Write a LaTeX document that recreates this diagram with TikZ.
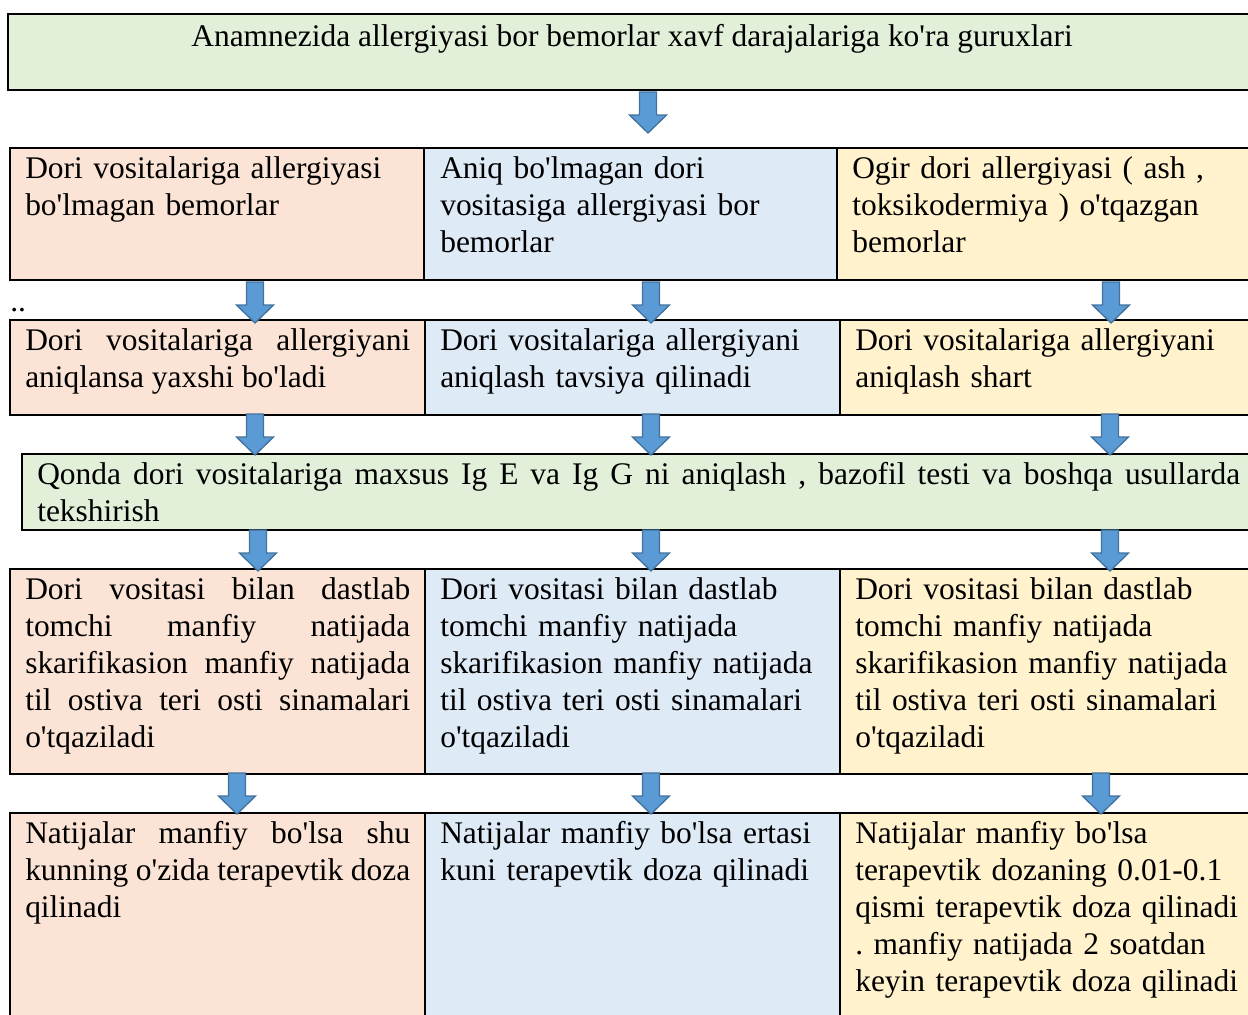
\documentclass[tikz,border=0pt]{standalone}
\usepackage{fontspec}
\setmainfont{Liberation Serif}[Ligatures=TeXOff]
\tolerance=9999 \hbadness=10000 \hyphenpenalty=10000
\frenchspacing
\definecolor{cgreen}{HTML}{E2EFD9}
\definecolor{cpeach}{HTML}{FBE4D5}
\definecolor{cblue}{HTML}{DEEAF6}
\definecolor{cyellow}{HTML}{FFF2CC}
\definecolor{afill}{HTML}{5B9BD5}
\definecolor{aline}{HTML}{41719C}
\begin{document}
\begin{tikzpicture}[x=0.75pt,y=-0.75pt,
  cell/.style={draw=black, line width=1.7pt},
  txt/.style={anchor=base west, inner sep=0pt, text width=288.75pt,
    font=\fontsize{23.6pt}{27.75pt}\selectfont\frenchspacing},
  lft/.style={txt, align=left, text width=305pt},
  jst/.style={txt, align=justify},
  arrowstyle/.style={fill=afill, draw=aline, line width=1pt, line join=miter},
  barrow/.pic={\draw[arrowstyle] (-8.5,0) -- (8.5,0) -- (8.5,23) -- (18.5,23)
      -- (0,41) -- (-18.5,23) -- (-8.5,23) -- cycle;}
  ]
\useasboundingbox (0,0) rectangle (1248,1014);
% top box
\draw[cell, fill=cgreen] (8,14) rectangle (1262,90);
\node[anchor=base, inner sep=0pt, font=\fontsize{23.6pt}{27.75pt}\selectfont] (top) at (632,46)
  {Anamnezida allergiyasi bor bemorlar xavf darajalariga ko'ra guruxlari};
% row 1
\draw[cell, fill=cpeach] (10,148) rectangle (424,280);
\draw[cell, fill=cblue] (424,148) rectangle (837,280);
\draw[cell, fill=cyellow] (837,148) rectangle (1262,280);
\node[lft] (r1a) at (25,178) {Dori vositalariga allergiyasi\\ bo'lmagan bemorlar};
\node[lft] (r1b) at (440,178) {Aniq bo'lmagan dori\\ vositasiga allergiyasi bor\\ bemorlar};
\node[lft] (r1c) at (852,178) {Ogir dori allergiyasi ( ash ,\\ toksikodermiya ) o'tqazgan\\ bemorlar};
\node[anchor=base west, inner sep=0pt, font=\fontsize{23.6pt}{27.75pt}\selectfont] (dots) at (10,311) {..};
% row 2
\draw[cell, fill=cpeach] (10,320) rectangle (425,415);
\draw[cell, fill=cblue] (425,320) rectangle (840,415);
\draw[cell, fill=cyellow] (840,320) rectangle (1262,415);
\node[jst] (r2a) at (25,350) {Dori vositalariga allergiyani\linebreak aniqlansa yaxshi bo'ladi};
\node[lft] (r2b) at (440,350) {Dori vositalariga allergiyani\\ aniqlash tavsiya qilinadi};
\node[lft] (r2c) at (855,350) {Dori vositalariga allergiyani\\ aniqlash shart};
% Qonda box
\draw[cell, fill=cgreen] (22,454) rectangle (1262,530);
\node[jst, text width=902.25pt] (q) at (37,484) {Qonda dori vositalariga maxsus Ig E va Ig G ni aniqlash , bazofil testi va boshqa usullarda\linebreak tekshirish};
% row 3
\draw[cell, fill=cpeach] (10,569) rectangle (425,774);
\draw[cell, fill=cblue] (425,569) rectangle (840,774);
\draw[cell, fill=cyellow] (840,569) rectangle (1262,774);
\node[jst] (r3a) at (25,599) {Dori vositasi bilan dastlab\linebreak tomchi manfiy natijada\linebreak skarifikasion manfiy natijada\linebreak til ostiva teri osti sinamalari\linebreak o'tqaziladi};
\node[lft] (r3b) at (440,599) {Dori vositasi bilan dastlab\\ tomchi manfiy natijada\\ skarifikasion manfiy natijada\\ til ostiva teri osti sinamalari\\ o'tqaziladi};
\node[lft] (r3c) at (855,599) {Dori vositasi bilan dastlab\\ tomchi manfiy natijada\\ skarifikasion manfiy natijada\\ til ostiva teri osti sinamalari\\ o'tqaziladi};
% row 4
\draw[cell, fill=cpeach] (10,813) rectangle (425,1030);
\draw[cell, fill=cblue] (425,813) rectangle (840,1030);
\draw[cell, fill=cyellow] (840,813) rectangle (1262,1030);
\node[jst] (r4a) at (25,843) {Natijalar manfiy bo'lsa shu\linebreak kunning o'zida terapevtik doza\linebreak qilinadi};
\node[lft] (r4b) at (440,843) {Natijalar manfiy bo'lsa ertasi\\ kuni terapevtik doza qilinadi};
\node[lft] (r4c) at (855,843) {Natijalar manfiy bo'lsa\\ terapevtik dozaning 0.01-0.1\\ qismi terapevtik doza qilinadi\\ . manfiy natijada 2 soatdan\\ keyin terapevtik doza qilinadi};
% arrows
\pic (a0) at (648,92) {barrow};
\pic (a1l) at (255,282) {barrow};
\pic (a1m) at (651,282) {barrow};
\pic (a1r) at (1111,282) {barrow};
\pic (a2l) at (255,414) {barrow};
\pic (a2m) at (651,414) {barrow};
\pic (a2r) at (1110,414) {barrow};
\pic (a3l) at (258,530) {barrow};
\pic (a3m) at (651,530) {barrow};
\pic (a3r) at (1110,530) {barrow};
\pic (a4l) at (237,773) {barrow};
\pic (a4m) at (651,773) {barrow};
\pic (a4r) at (1101,773) {barrow};
\end{tikzpicture}
\end{document}
